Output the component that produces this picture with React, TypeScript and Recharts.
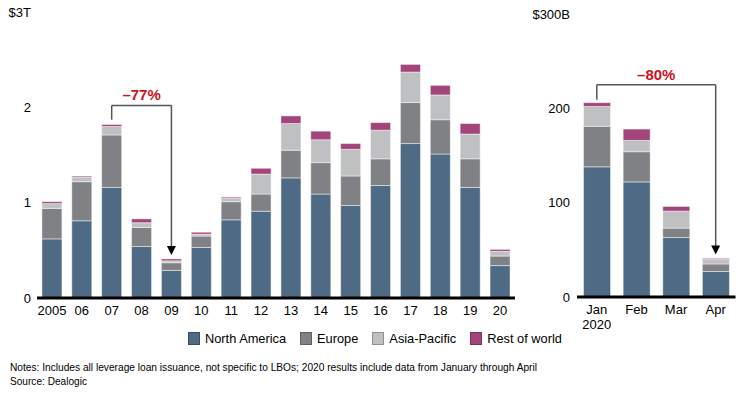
import React from 'react';
import { BarChart, Bar, XAxis, YAxis, ReferenceLine, ReferenceDot } from 'recharts';

const years = ['2005', '06', '07', '08', '09', '10', '11', '12', '13', '14', '15', '16', '17', '18', '19', '20'];
const naYear = [0.62, 0.81, 1.16, 0.54, 0.29, 0.53, 0.82, 0.91, 1.26, 1.09, 0.97, 1.18, 1.62, 1.51, 1.16, 0.34];
const euYear = [0.32, 0.41, 0.55, 0.2, 0.08, 0.12, 0.19, 0.18, 0.29, 0.33, 0.31, 0.28, 0.43, 0.36, 0.3, 0.1];
const apYear = [0.05, 0.05, 0.09, 0.05, 0.02, 0.02, 0.04, 0.21, 0.28, 0.24, 0.28, 0.3, 0.32, 0.26, 0.26, 0.05];
const rowYear = [0.02, 0.01, 0.02, 0.04, 0.02, 0.02, 0.01, 0.06, 0.08, 0.09, 0.06, 0.08, 0.08, 0.1, 0.11, 0.02];
const yearTicks = [0, 1, 2, 3];

const months = ['Jan', 'Feb', 'Mar', 'Apr'];
const naMonth = [138, 122, 63, 27];
const euMonth = [43, 32, 10, 8];
const apMonth = [21, 12, 18, 5];
const rowMonth = [4, 12, 5, 1];
const monthTicks = [0, 100, 200, 300];

const seriesNames = ['North America', 'Europe', 'Asia-Pacific', 'Rest of world'];
const colors = ['#4f6a85', '#808185', '#bfc0c2', '#a3447b'];
const keys = ['na', 'eu', 'ap', 'row'];

const yearData = years.map((y, i) => ({ cat: y, na: naYear[i], eu: euYear[i], ap: apYear[i], row: rowYear[i] }));
const monthData = months.map((m, i) => ({ cat: m, na: naMonth[i], eu: euMonth[i], ap: apMonth[i], row: rowMonth[i] }));

const FONT = '"Liberation Sans", Arial, sans-serif';
const NARROW = '"Liberation Sans Narrow", "Arial Narrow", "Liberation Sans", Arial, sans-serif';
const bracketColor = '#555555';
const red = '#cc1122';

const Arrow = (props: any) => {
  const { cx, cy } = props;
  if (cx == null || cy == null) return null;
  return <path d={`M${cx - 4.5},${cy - 9} L${cx + 4.5},${cy - 9} L${cx},${cy} Z`} fill="#000" />;
};

const MonthTick = (props: any) => {
  const { x, y, payload } = props;
  return (
    <text x={x} y={y} textAnchor="middle" fontSize={13} fill="#000" fontFamily={FONT}>
      <tspan x={x} dy="0.71em">{payload.value}</tspan>
      {payload.value === 'Jan' ? <tspan x={x} dy="1.15em">2020</tspan> : null}
    </text>
  );
};

const bars = () =>
  keys.map((k, i) => (
    <Bar
      key={k}
      dataKey={k}
      name={seriesNames[i]}
      stackId="a"
      fill={colors[i]}
      stroke="rgba(255,255,255,0.45)"
      strokeWidth={1}
      isAnimationActive={false}
    />
  ));

export default function App() {
  return (
    <div style={{ position: 'absolute', left: 0, top: 0, width: 740, height: 398, background: '#fff', fontFamily: FONT, overflow: 'hidden' }}>
      <div style={{ position: 'absolute', left: 0, top: 0 }}>
        <BarChart width={530} height={330} data={yearData} margin={{ top: 12, right: 15, bottom: 2, left: 7 }} barCategoryGap="16.5%">
          <XAxis
            dataKey="cat"
            height={30}
            tickLine={false}
            axisLine={{ stroke: '#000', strokeWidth: 3 }}
            tick={{ fontSize: 13, fill: '#000', fontFamily: FONT }}
            tickSize={6}
            tickMargin={2}
            interval={0}
          />
          <YAxis
            width={30}
            domain={[0, 3]}
            ticks={yearTicks}
            axisLine={false}
            tickLine={false}
            tickSize={4}
            tickMargin={2}
            tick={{ fontSize: 13, fill: '#000', fontFamily: FONT }}
            tickFormatter={(v: number) => (v === 3 ? '$3T' : String(v))}
          />
          {bars()}
          <ReferenceLine segment={[{ x: '07', y: 1.87 }, { x: '07', y: 2.02 }]} stroke={bracketColor} strokeWidth={1.5} />
          <ReferenceLine
            segment={[{ x: '07', y: 2.02 }, { x: '09', y: 2.02 }]}
            stroke={bracketColor}
            strokeWidth={1.5}
            label={{ value: '\u201377%', position: 'top', fill: red, fontSize: 15, fontWeight: 'bold', fontFamily: FONT, offset: 5 }}
          />
          <ReferenceLine segment={[{ x: '09', y: 2.02 }, { x: '09', y: 0.52 }]} stroke={bracketColor} strokeWidth={1.5} />
          <ReferenceDot x="09" y={0.45} r={0} shape={Arrow} />
        </BarChart>
      </div>
      <div style={{ position: 'absolute', left: 530, top: 0 }}>
        <BarChart width={210} height={345} data={monthData} margin={{ top: 14, right: 4.5, bottom: 3, left: 7 }} barCategoryGap="16.5%">
          <XAxis
            dataKey="cat"
            height={45}
            tickLine={false}
            axisLine={{ stroke: '#000', strokeWidth: 3 }}
            tick={<MonthTick />}
            tickSize={6}
            tickMargin={2}
            interval={0}
          />
          <YAxis
            width={40}
            domain={[0, 300]}
            ticks={monthTicks}
            axisLine={false}
            tickLine={false}
            tickSize={5}
            tickMargin={2}
            tick={{ fontSize: 13, fill: '#000', fontFamily: FONT }}
            tickFormatter={(v: number) => (v === 300 ? '$300B' : String(v))}
          />
          {bars()}
          <ReferenceLine segment={[{ x: 'Jan', y: 209 }, { x: 'Jan', y: 225 }]} stroke={bracketColor} strokeWidth={1.5} />
          <ReferenceLine
            segment={[{ x: 'Jan', y: 225 }, { x: 'Apr', y: 225 }]}
            stroke={bracketColor}
            strokeWidth={1.5}
            label={{ value: '\u201380%', position: 'top', fill: red, fontSize: 15, fontWeight: 'bold', fontFamily: FONT, offset: 5 }}
          />
          <ReferenceLine segment={[{ x: 'Apr', y: 225 }, { x: 'Apr', y: 52 }]} stroke={bracketColor} strokeWidth={1.5} />
          <ReferenceDot x="Apr" y={45} r={0} shape={Arrow} />
        </BarChart>
      </div>
      <div style={{ position: 'absolute', left: 188, top: 331, display: 'flex', alignItems: 'center', fontSize: 12.8, color: '#000', whiteSpace: 'nowrap' }}>
        {seriesNames.map((n, i) => (
          <div key={n} style={{ display: 'flex', alignItems: 'center', marginRight: 14 }}>
            <span style={{ display: 'inline-block', width: 10, height: 11, background: colors[i], border: '1px solid rgba(0,0,0,0.25)', marginRight: 5 }} />
            <span>{n}</span>
          </div>
        ))}
      </div>
      <svg style={{ position: 'absolute', left: 0, top: 355 }} width={740} height={40}>
        <text x={10} y={16} fontSize={11.5} fontFamily={NARROW} fill="#000" textLength={527} lengthAdjust="spacingAndGlyphs">
          Notes: Includes all leverage loan issuance, not specific to LBOs; 2020 results include data from January through April
        </text>
        <text x={10} y={30} fontSize={11.5} fontFamily={NARROW} fill="#000" textLength={77} lengthAdjust="spacingAndGlyphs">
          Source: Dealogic
        </text>
      </svg>
    </div>
  );
}
